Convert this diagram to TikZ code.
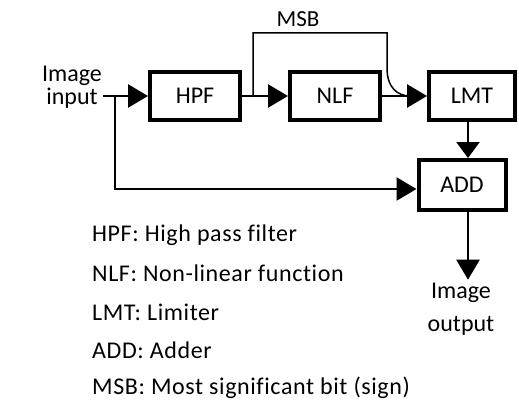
\documentclass[tikz,border=0pt]{standalone}
\usepackage{fontspec}
\setmainfont{Carlito}
\newfontfamily\keyfont{Carlito}[LetterSpace=2.5, Ligatures={NoCommon}]
\usetikzlibrary{positioning, arrows.meta, calc}

\tikzset{
  block/.style={draw, line width=4pt, minimum width=90pt, minimum height=48pt, inner sep=0pt, font=\fontsize{24}{26}\selectfont},
  flow/.style={line width=2.5pt, -{Triangle[length=20pt,width=23pt]}},
  msbline/.style={line width=1.5pt},
  keytext/.style={anchor=west, inner sep=0pt, font=\keyfont\fontsize{24}{26}\selectfont},
}

\begin{document}
\begin{tikzpicture}[x=1pt, y=-1pt]
\useasboundingbox (0,0) rectangle (519,401);

\node [block] (hpf) at (195,96) {HPF};
\node [block] (nlf) at (335,96) {NLF};
\node [block, minimum width=86pt] (lmt) at (472,96) {LMT};
\node [block, minimum width=87pt, minimum height=50pt] (add) at (462,185) {ADD};

\node [align=center, inner sep=1pt, font=\fontsize{24}{23}\selectfont] (in) at (72,87) {Image\\input};
\node [align=center, inner sep=3pt, font=\fontsize{24}{33}\selectfont] (out) at (461,309) {Image\\output};
\node [font=\fontsize{23}{25}\selectfont] (msb) at (298,19) {MSB};

\coordinate (split) at ($(in.east |- hpf)+(12,0)$);
\coordinate (tap) at ([xshift=11pt]hpf.east);
\coordinate (msbtop) at (387,33);
\coordinate (merge) at ($(nlf.east)!0.62!(lmt.west)$);

\draw [flow] (in.east |- hpf) -- (hpf);
\draw [flow] (hpf) -- (nlf);
\draw [flow] (nlf) -- (lmt);
\draw [flow] (split) |- ([yshift=-4pt]add.west);
\draw [flow, -{Triangle[length=16pt,width=23pt]}] ([xshift=-4pt]lmt.south) -- ([xshift=6pt]add.north);
\draw [flow] ([xshift=6pt]add.south) -- ([xshift=6pt]add.south |- out.north);

% sign bit goes round NLF
\draw [msbline] (tap) |- (msbtop) -- ++(0,35) .. controls +(0,20) and +(-12,0) .. (merge);

\node [keytext] (keyhpf) at (92,235) {HPF: High pass filter};
\node [keytext] (keynlf) at (92,273) {NLF: Non-linear function};
\node [keytext] (keylmt) at (92,312) {LMT: Limiter};
\node [keytext] (keyadd) at (92,350) {ADD: Adder};
\node [keytext] (keymsb) at (92,388) {MSB: Most significant bit (sign)};

\end{tikzpicture}
\end{document}
